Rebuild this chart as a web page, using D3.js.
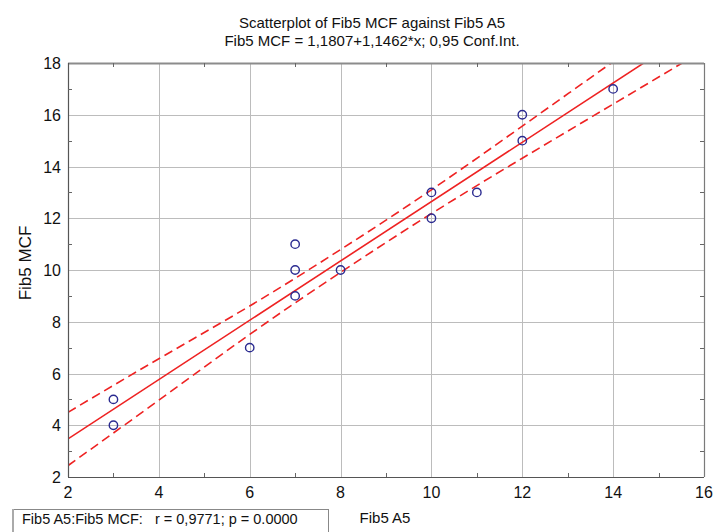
<!DOCTYPE html>
<html>
<head>
<meta charset="utf-8">
<script src="https://cdn.jsdelivr.net/npm/d3@7/dist/d3.min.js"></script>
<style>
  html, body { margin: 0; padding: 0; background: #fff; }
  svg { display: block; font-family: "Liberation Sans", Arial, sans-serif; }
  .pre { white-space: pre; }
</style>
</head>
<body>
<svg id="chart" width="726" height="532"></svg>
<script>
// Observations: Fib5 A5 (x) vs Fib5 MCF (y)
const fibA5  = [3, 3, 6, 7, 7, 7, 8, 10, 10, 11, 12, 12, 14];
const fibMCF = [5, 4, 7, 11, 10, 9, 10, 13, 12, 13, 16, 15, 17];

// Fitted regression line: y = 1.1807 + 1.1462 * x
const intercept = 1.1807;
const slope = 1.1462;

// 95% confidence band edges at the even x positions
const bandX     = [2, 4, 6, 8, 10, 12, 14, 16];
const bandUpper = [4.50, 6.57, 8.61, 10.79, 13.10, 15.56, 18.05, 20.54];
const bandLower = [2.44, 4.97, 7.51, 9.91, 12.18, 14.32, 16.41, 18.50];

// Axis ticks
const xTicks = [2, 4, 6, 8, 10, 12, 14, 16];
const yTicks = [2, 4, 6, 8, 10, 12, 14, 16, 18];
const xMinor = [3, 5, 7, 9, 11, 13, 15];
const yMinor = [3, 5, 7, 9, 11, 13, 15, 17];

const titleLines = [
  "Scatterplot of Fib5 MCF against Fib5 A5",
  "Fib5 MCF = 1,1807+1,1462*x; 0,95 Conf.Int."
];
const xLabel = "Fib5 A5";
const yLabel = "Fib5 MCF";
const statsText = "Fib5 A5:Fib5 MCF:   r = 0,9771; p = 0.0000";

const svg = d3.select("#chart");
const pL = 68, pR = 704, pT = 63, pB = 477;

const x = d3.scaleLinear().domain([2, 16]).range([pL, pR]);
const y = d3.scaleLinear().domain([2, 18]).range([pB, pT]);

// Title
svg.append("g").selectAll("text").data(titleLines).join("text")
  .attr("x", 372).attr("y", (d, i) => 28 + i * 18)
  .attr("text-anchor", "middle")
  .attr("font-size", 15).attr("fill", "#111")
  .text(d => d);

// Gridlines
const grid = svg.append("g").attr("stroke", "#bcbcbc").attr("stroke-width", 1);
grid.selectAll("line.gx").data(xTicks.slice(1, -1)).join("line")
  .attr("x1", d => Math.round(x(d)) + 0.5).attr("x2", d => Math.round(x(d)) + 0.5)
  .attr("y1", pT).attr("y2", pB);
grid.selectAll("line.gy").data(yTicks.slice(1, -1)).join("line")
  .attr("y1", d => Math.round(y(d)) + 0.5).attr("y2", d => Math.round(y(d)) + 0.5)
  .attr("x1", pL).attr("x2", pR);

// Clip for lines
svg.append("clipPath").attr("id", "plotClip")
  .append("rect").attr("x", pL).attr("y", pT)
  .attr("width", pR - pL).attr("height", pB - pT);

const plot = svg.append("g").attr("clip-path", "url(#plotClip)");

// Confidence bands
const bandLine = d3.line().curve(d3.curveNatural)
  .x(d => x(d[0])).y(d => y(d[1]));
[bandUpper, bandLower].forEach(arr => {
  plot.append("path")
    .datum(bandX.map((v, i) => [v, arr[i]]))
    .attr("d", bandLine)
    .attr("fill", "none").attr("stroke", "#ee2222")
    .attr("stroke-width", 1.6).attr("stroke-dasharray", "9,5");
});

// Regression line
const [x0, x1] = x.domain();
plot.append("line")
  .attr("x1", x(x0)).attr("y1", y(intercept + slope * x0))
  .attr("x2", x(x1)).attr("y2", y(intercept + slope * x1))
  .attr("stroke", "#ee2222").attr("stroke-width", 1.6);

// Points
svg.append("g").selectAll("circle").data(fibA5).join("circle")
  .attr("cx", (d) => x(d)).attr("cy", (d, i) => y(fibMCF[i]))
  .attr("r", 4.2).attr("fill", "none")
  .attr("stroke", "#2a2a90").attr("stroke-width", 1.4);

// Frame
const frame = svg.append("g").attr("fill", "none");
frame.append("line").attr("x1", pL).attr("x2", pR).attr("y1", pT + 0.5).attr("y2", pT + 0.5)
  .attr("stroke", "#8c8c8c").attr("stroke-width", 2);
frame.append("line").attr("x1", pR + 0.5).attr("x2", pR + 0.5).attr("y1", pT).attr("y2", pB)
  .attr("stroke", "#7a7a7a").attr("stroke-width", 1.2);
frame.append("line").attr("x1", pL + 0.5).attr("x2", pL + 0.5).attr("y1", pT).attr("y2", pB)
  .attr("stroke", "#555").attr("stroke-width", 1.2);
frame.append("line").attr("x1", pL).attr("x2", pR).attr("y1", pB + 0.5).attr("y2", pB + 0.5)
  .attr("stroke", "#555").attr("stroke-width", 1.2);

// Minor inward ticks on all sides
const tk = svg.append("g").attr("stroke", "#666").attr("stroke-width", 1);
xMinor.forEach(v => {
  const px = Math.round(x(v)) + 0.5;
  tk.append("line").attr("x1", px).attr("x2", px).attr("y1", pB).attr("y2", pB - 4);
  tk.append("line").attr("x1", px).attr("x2", px).attr("y1", pT).attr("y2", pT + 4);
});
yMinor.forEach(v => {
  const py = Math.round(y(v)) + 0.5;
  tk.append("line").attr("y1", py).attr("y2", py).attr("x1", pL).attr("x2", pL + 4);
  tk.append("line").attr("y1", py).attr("y2", py).attr("x1", pR).attr("x2", pR - 4);
});

// Tick labels
svg.append("g").selectAll("text").data(xTicks).join("text")
  .attr("x", d => x(d)).attr("y", pB + 21)
  .attr("text-anchor", "middle").attr("font-size", 16).attr("fill", "#111")
  .text(d => d);
svg.append("g").selectAll("text").data(yTicks).join("text")
  .attr("x", pL - 7).attr("y", d => y(d) + 6)
  .attr("text-anchor", "end").attr("font-size", 16).attr("fill", "#111")
  .text(d => d);

// Axis titles
svg.append("text").attr("x", 385).attr("y", 523)
  .attr("text-anchor", "middle").attr("font-size", 15).attr("fill", "#111")
  .text(xLabel);
svg.append("text")
  .attr("transform", "translate(31,263) rotate(-90)")
  .attr("text-anchor", "middle").attr("font-size", 17).attr("fill", "#111")
  .text(yLabel);

// Correlation box
svg.append("rect").attr("x", 12.5).attr("y", 509.5).attr("width", 316).attr("height", 24)
  .attr("fill", "#fff").attr("stroke", "#888").attr("stroke-width", 1);
svg.append("line").attr("x1", 13).attr("x2", 13).attr("y1", 509).attr("y2", 532)
  .attr("stroke", "#aaa").attr("stroke-width", 2);
svg.append("text").attr("class", "pre").attr("x", 22).attr("y", 524)
  .attr("font-size", 14.5).attr("fill", "#111")
  .text(statsText);
</script>
</body>
</html>
